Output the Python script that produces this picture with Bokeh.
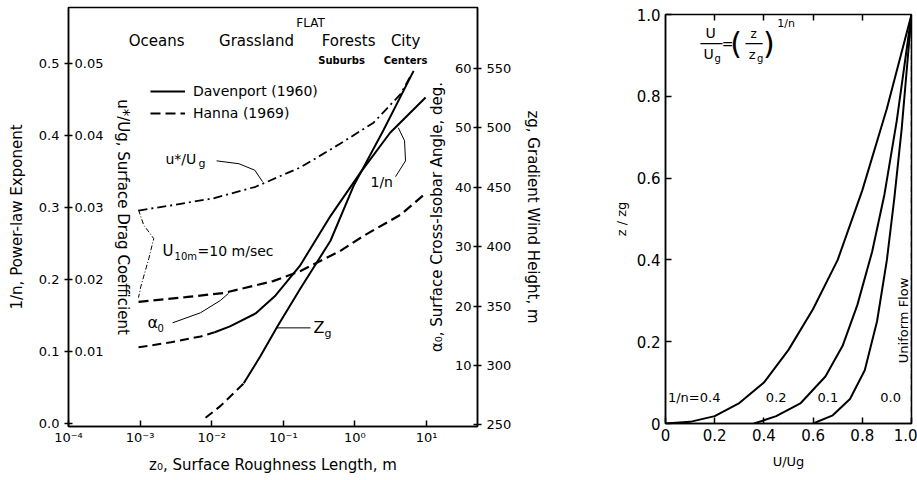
import math
from bokeh.plotting import figure
from bokeh.models import Range1d, LinearAxis, FixedTicker, Legend, LegendItem
from bokeh.layouts import row, column
from bokeh.embed import file_html
from bokeh.resources import INLINE
from bokeh.core.properties import value

FONT = "DejaVu Sans"

# ---------------- left panel data ----------------
x_ticks = [1e-4, 1e-3, 1e-2, 1e-1, 1.0, 10.0]
x_tick_labels = ["10⁻⁴", "10⁻³", "10⁻²", "10⁻¹", "10⁰", "10¹"]
inv_n_ticks = [0.0, 0.1, 0.2, 0.3, 0.4, 0.5]
ustar_ticks = [0.01, 0.02, 0.03, 0.04, 0.05]
alpha_ticks = [10, 20, 30, 40, 50, 60]
zg_ticks = [250, 300, 350, 400, 450, 500, 550]

# 1/n, Davenport (1960): dashed below z0 = 0.011, solid above
inv_n_z0 = [0.00095, 0.0027, 0.007, 0.011, 0.018, 0.041, 0.078, 0.17, 0.46, 1.2, 3.1, 9.7]
inv_n_val = [0.106, 0.113, 0.121, 0.127, 0.135, 0.153, 0.178, 0.219, 0.289, 0.349, 0.404, 0.453]
inv_n_split = 0.011

# gradient wind height z_g [m], Davenport (1960): dashed below z0 = 0.028
zg_z0 = [0.0082, 0.0133, 0.028, 0.048, 0.083, 0.174, 0.456, 0.955, 2.5, 6.6]
zg_val = [256, 266, 285, 308, 333, 365, 405, 451, 498, 548]
zg_split = 0.028

# surface drag coefficient u*/Ug, Hanna (1969)
ustar_z0 = [0.00095, 0.0031, 0.0106, 0.041, 0.174, 0.627, 1.82, 4.36, 6.0]
ustar_val = [0.0296, 0.0304, 0.0313, 0.0329, 0.0356, 0.0389, 0.0418, 0.0458, 0.0483]

# surface cross-isobar angle alpha0 [deg], Hanna (1969)
alpha_z0 = [0.00095, 0.0043, 0.0146, 0.072, 0.174, 0.627, 1.31, 4.36, 8.9]
alpha_val = [20.7, 21.5, 22.2, 24.2, 25.9, 29.3, 31.8, 35.4, 38.6]

# ---------------- right panel data ----------------
u_ticks = [0.0, 0.2, 0.4, 0.6, 0.8, 1.0]
z_ticks = [0.0, 0.2, 0.4, 0.6, 0.8, 1.0]
top_ticks = [0.2, 0.4, 0.6, 0.8]
prof_04_u = [0.0, 0.1, 0.2, 0.3, 0.4, 0.5, 0.6, 0.7, 0.8, 0.9, 1.0]
prof_04_z = [0.0, 0.004, 0.018, 0.05, 0.10, 0.18, 0.28, 0.40, 0.57, 0.77, 1.0]
prof_02_u = [0.36, 0.45, 0.55, 0.65, 0.72, 0.78, 0.84, 0.89, 0.94, 1.0]
prof_02_z = [0.0, 0.018, 0.05, 0.115, 0.19, 0.29, 0.42, 0.56, 0.74, 1.0]
prof_01_u = [0.60, 0.68, 0.75, 0.81, 0.86, 0.90, 0.93, 0.96, 1.0]
prof_01_z = [0.0, 0.02, 0.06, 0.13, 0.25, 0.40, 0.55, 0.72, 1.0]
prof_00_u = [1.0, 1.0]
prof_00_z = [0.0, 1.0]


def split(xs, ys, lim):
    a = [(x, y) for x, y in zip(xs, ys) if x <= lim]
    b = [(x, y) for x, y in zip(xs, ys) if x >= lim]
    return [p[0] for p in a], [p[1] for p in a], [p[0] for p in b], [p[1] for p in b]


# ================= LEFT FIGURE =================
X_END = 51.5
p = figure(width=590, height=480, x_axis_type="log",
           x_range=Range1d(1e-4, X_END), y_range=Range1d(-0.004, 0.578),
           output_backend="svg", toolbar_location=None,
           min_border_left=68, min_border_right=113, min_border_top=7, min_border_bottom=54)
p.title.visible = False
p.extra_y_ranges = {
    "ustar": Range1d(-0.0004, 0.0578),
    "alpha": Range1d(-0.27, 70.27),
    "zg": Range1d(248.65, 601.35),
}
p.xgrid.visible = False
p.ygrid.visible = False
p.outline_line_color = "black"
p.outline_line_width = 1.5
p.background_fill_color = "white"
p.border_fill_color = "white"

xa = p.xaxis[0]
xa.ticker = FixedTicker(ticks=x_ticks)
xa.major_label_overrides = dict(zip(x_ticks, x_tick_labels))
xa.major_tick_in = 6
xa.major_tick_out = 0
xa.minor_tick_in = 0
xa.minor_tick_out = 0
xa.axis_label = "z₀, Surface Roughness Length, m"
xa.major_label_standoff = 3
xa.axis_label_standoff = 8

ya = p.yaxis[0]
ya.ticker = FixedTicker(ticks=inv_n_ticks)
ya.major_label_overrides = {0: "0.0"}
ya.major_tick_in = 4
ya.major_tick_out = 4
ya.minor_tick_in = 0
ya.minor_tick_out = 0
ya.axis_label = "1/n, Power-law Exponent"
ya.axis_label_standoff = 10

ax_u = LinearAxis(y_range_name="ustar", fixed_location=1e-4,
                  ticker=FixedTicker(ticks=ustar_ticks),
                  axis_label="u*/Ug, Surface Drag Coefficient")
ax_u.major_tick_in = 0
ax_u.major_tick_out = 0
ax_u.minor_tick_in = 0
ax_u.minor_tick_out = 0
ax_u.axis_line_color = None
ax_u.major_label_standoff = 6
ax_u.axis_label_standoff = 8
p.add_layout(ax_u, "right")

ax_a = LinearAxis(y_range_name="alpha", fixed_location=X_END,
                  ticker=FixedTicker(ticks=alpha_ticks),
                  axis_label="α₀, Surface Cross-Isobar Angle, deg.")
ax_a.major_tick_in = 0
ax_a.major_tick_out = 0
ax_a.minor_tick_in = 0
ax_a.minor_tick_out = 0
ax_a.axis_line_color = None
ax_a.major_label_standoff = 6
ax_a.axis_label_standoff = 6
p.add_layout(ax_a, "left")

ax_z = LinearAxis(y_range_name="zg", ticker=FixedTicker(ticks=zg_ticks),
                  axis_label="zg, Gradient Wind Height, m")
ax_z.major_tick_in = 4
ax_z.major_tick_out = 4
ax_z.minor_tick_in = 0
ax_z.minor_tick_out = 0
ax_z.axis_label_standoff = 10
p.add_layout(ax_z, "right")

for ax in [xa, ya, ax_u, ax_a, ax_z]:
    ax.major_label_text_font = FONT
    ax.major_label_text_font_size = "13px"
    ax.major_label_text_color = "black"
    ax.axis_label_text_font = FONT
    ax.axis_label_text_font_size = "15px"
    ax.axis_label_text_font_style = "normal"
    ax.axis_label_text_color = "black"
    ax.major_tick_line_color = "black"
    ax.major_tick_line_width = 1.5
xa.axis_line_width = 1.5
ya.axis_line_width = 1.5
ax_z.axis_line_width = 1.5

# curves
a_x, a_y, b_x, b_y = split(inv_n_z0, inv_n_val, inv_n_split)
p.line(a_x, a_y, line_color="black", line_width=2, line_dash="9 5")
r_dav = p.line(b_x, b_y, line_color="black", line_width=2)

a_x, a_y, b_x, b_y = split(zg_z0, zg_val, zg_split)
p.line(a_x, a_y, y_range_name="zg", line_color="black", line_width=2, line_dash="9 5")
p.line(b_x, b_y, y_range_name="zg", line_color="black", line_width=2)

p.line(ustar_z0, ustar_val, y_range_name="ustar", line_color="black",
       line_width=1.8, line_dash="9 4 2 4")
r_han = p.line(alpha_z0, alpha_val, y_range_name="alpha", line_color="black",
               line_width=2.2, line_dash="10 5")

legend = Legend(items=[LegendItem(label="Davenport (1960)", renderers=[r_dav]),
                       LegendItem(label="Hanna (1969)", renderers=[r_han])],
                location=(82, 303), glyph_width=35, glyph_height=20, spacing=2,
                padding=2, margin=0, label_standoff=8, border_line_color=None,
                background_fill_alpha=0, label_text_font=FONT,
                label_text_color="black", label_text_font_size="14px")
p.add_layout(legend)

# terrain labels at the top
terrain_txt = ["Oceans", "Grassland", "Forests", "City"]
terrain_x = [0.0017, 0.0423, 0.815, 5.1]
terrain_y = [0.531, 0.531, 0.531, 0.531]
p.text(terrain_x, terrain_y, text=terrain_txt, text_font=value(FONT),
       text_font_size="15px", text_align="center", text_baseline="middle")
sub_txt = ["Suburbs", "Centers"]
sub_x = [0.65, 5.1]
sub_y = [0.504, 0.504]
p.text(sub_x, sub_y, text=sub_txt, text_font=value(FONT), text_font_size="10px",
       text_font_style="bold", text_align="center", text_baseline="middle")
p.text([0.24], [0.557], text=["FLAT"], text_font=value(FONT), text_font_size="12px",
       text_align="center", text_baseline="middle")

# curve labels and leaders
lbl_kw = dict(text_font=value(FONT), text_baseline="middle", text_align="left")
p.text([0.00226], [0.368], text=["u*/U"], text_font_size="14px", **lbl_kw)
p.text([0.00226], [0.368], text=["g"], text_font_size="11px", x_offset=33, y_offset=5, **lbl_kw)
p.line([0.0117, 0.024, 0.040, 0.0513], [0.365, 0.361, 0.352, 0.336], line_color="black", line_width=1)

p.text([0.00206], [0.240], text=["U"], text_font_size="15px", **lbl_kw)
p.text([0.00206], [0.240], text=["10m"], text_font_size="10px", x_offset=12, y_offset=6, **lbl_kw)
p.text([0.00206], [0.240], text=["=10 m/sec"], text_font_size="14px", x_offset=35, **lbl_kw)
p.line([0.00095, 0.00112, 0.00155, 0.00132, 0.00102, 0.00095],
       [0.297, 0.276, 0.257, 0.229, 0.190, 0.175],
       line_color="black", line_width=1, line_dash="5 2 1 2")

p.text([0.00127], [0.140], text=["α"], text_font_size="16px", **lbl_kw)
p.text([0.00127], [0.140], text=["0"], text_font_size="10px", x_offset=10, y_offset=5, **lbl_kw)
p.line([0.00284, 0.00698, 0.0132, 0.0172], [0.140, 0.154, 0.171, 0.181],
       line_color="black", line_width=1)

p.text([0.264], [0.133], text=["Z"], text_font_size="16px", **lbl_kw)
p.text([0.264], [0.133], text=["g"], text_font_size="11px", x_offset=11, y_offset=6, **lbl_kw)
p.line([0.080, 0.240], [0.133, 0.133], line_color="black", line_width=1)

p.text([1.65], [0.335], text=["1/n"], text_font_size="14px", **lbl_kw)
p.line([3.69, 5.09, 4.93, 4.03], [0.343, 0.365, 0.393, 0.411], line_color="black", line_width=1)

# ================= RIGHT FIGURE =================
q = figure(width=327, height=480, x_range=Range1d(0, 1), y_range=Range1d(0, 1),
           output_backend="svg", toolbar_location=None,
           min_border_left=75, min_border_right=6, min_border_top=14, min_border_bottom=57)
q.title.visible = False
q.xgrid.visible = False
q.ygrid.visible = False
q.outline_line_color = "black"
q.outline_line_width = 1.5

qx = q.xaxis[0]
qy = q.yaxis[0]
qx.ticker = FixedTicker(ticks=u_ticks)
qy.ticker = FixedTicker(ticks=z_ticks)
qx.major_label_overrides = {0: "0", 1: "1.0"}
qy.major_label_overrides = {0: "0", 1: "1.0"}
qx.axis_label = "U/Ug"
qy.axis_label = "z / zg"
qx.axis_label_standoff = 10
for ax in [qx, qy]:
    ax.major_tick_in = 6
    ax.major_tick_out = 0
    ax.minor_tick_in = 0
    ax.minor_tick_out = 0
    ax.major_label_text_font = FONT
    ax.major_label_text_font_size = "15px"
    ax.major_label_text_color = "black"
    ax.axis_label_text_font = FONT
    ax.axis_label_text_font_size = "13px"
    ax.axis_label_text_font_style = "normal"
    ax.axis_label_text_color = "black"
    ax.axis_line_width = 1.5
    ax.major_tick_line_width = 1.5

qtop = LinearAxis(ticker=FixedTicker(ticks=top_ticks))
qtop.major_tick_in = 6
qtop.major_tick_out = 0
qtop.minor_tick_in = 0
qtop.minor_tick_out = 0
qtop.major_tick_line_width = 1.5
qtop.axis_line_color = None
qtop.major_label_text_font_size = "1px"
qtop.major_label_text_alpha = 0
qtop.major_label_standoff = 0
q.add_layout(qtop, "above")

q.line(prof_04_u, prof_04_z, line_color="black", line_width=2)
q.line(prof_02_u, prof_02_z, line_color="black", line_width=2)
q.line(prof_01_u, prof_01_z, line_color="black", line_width=2)
q.line(prof_00_u, prof_00_z, line_color="black", line_width=1.5, line_dash="6 2 1 2")

rk = dict(text_font=value(FONT), text_font_size="13px", text_baseline="middle")
q.text([0.01], [0.064], text=["1/n=0.4"], text_align="left", **rk)
q.text([0.45, 0.66, 0.915], [0.064, 0.064, 0.064], text=["0.2", "0.1", "0.0"], text_align="center", **rk)
q.text([0.967], [0.252], text=["Uniform Flow"], angle=math.pi / 2, text_align="center", **rk)

# formula U/Ug = (z/zg)^(1/n)
fk = dict(text_font=value(FONT), text_baseline="middle", text_align="center")
q.text([0.183], [0.955], text=["U"], text_font_size="14px", **fk)
q.line([0.142, 0.232], [0.929, 0.929], line_color="black", line_width=1.2)
q.text([0.175], [0.903], text=["U"], text_font_size="14px", **fk)
q.text([0.175], [0.903], text=["g"], text_font_size="10px", x_offset=9, y_offset=4, **fk)
q.text([0.252], [0.929], text=["="], text_font_size="14px", **fk)
q.text([0.287], [0.929], text=["("], text_font_size="30px", **fk)
q.text([0.358], [0.953], text=["z"], text_font_size="12px", **fk)
q.line([0.325, 0.395], [0.929, 0.929], line_color="black", line_width=1.2)
q.text([0.352], [0.903], text=["z"], text_font_size="13px", **fk)
q.text([0.352], [0.903], text=["g"], text_font_size="10px", x_offset=8, y_offset=4, **fk)
q.text([0.42], [0.929], text=[")"], text_font_size="30px", **fk)
q.text([0.49], [0.978], text=["1/n"], text_font_size="11px", **fk)

layout = row(column(p), column(q))
open("out.html", "w").write(file_html(layout, INLINE))
